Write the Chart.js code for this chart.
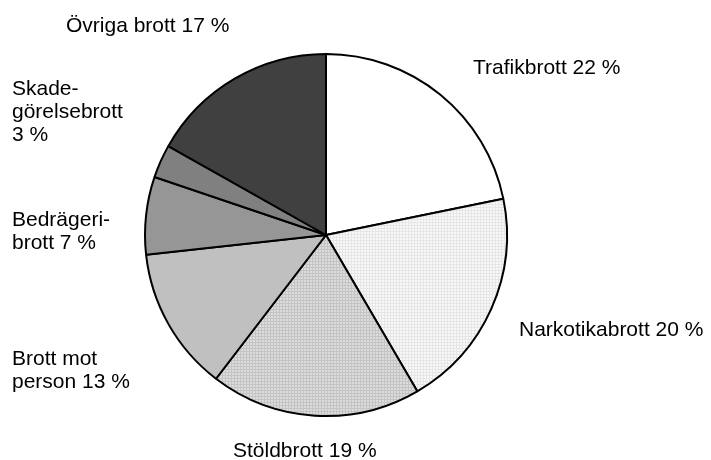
<!DOCTYPE html>
<html>
<head>
<meta charset="utf-8">
<script src="https://cdn.jsdelivr.net/npm/chart.js@4"></script>
<style>
  html, body { margin: 0; padding: 0; background: #fff; }
  #wrap { width: 711px; height: 460px; }
</style>
</head>
<body>
<div id="wrap"><canvas id="pie" width="711" height="460"></canvas></div>
<script>
// Data
const categories = ['Trafikbrott', 'Narkotikabrott', 'Stöldbrott', 'Brott mot person',
                    'Bedrägeribrott', 'Skadegörelsebrott', 'Övriga brott'];
const shares = [22, 20, 19, 13, 7, 3, 17];
// Label text as printed (line breaks as in the reference)
const labelLines = [
  ['Trafikbrott 22 %'],
  ['Narkotikabrott 20 %'],
  ['Stöldbrott 19 %'],
  ['Brott mot', 'person 13 %'],
  ['Bedrägeri-', 'brott 7 %'],
  ['Skade-', 'görelsebrott', '3 %'],
  ['Övriga brott 17 %']
];
// Where each label's first line sits (left x, baseline y)
const labelPos = [
  [473, 74],
  [519, 336],
  [233, 457],
  [12, 365],
  [12, 226],
  [12, 95],
  [66, 32]
];

// Fine dotted textures for two slices
function dots(base, dot) {
  const c = document.createElement('canvas');
  c.width = 3; c.height = 3;
  const g = c.getContext('2d');
  g.fillStyle = base; g.fillRect(0, 0, 3, 3);
  g.fillStyle = dot;
  g.fillRect(0, 0, 1, 3);
  g.fillRect(0, 0, 3, 1);
  return g.createPattern(c, 'repeat');
}

const fills = [
  '#ffffff',
  dots('#f8f8f8', '#e6e6e6'),
  dots('#dcdcdc', '#c4c4c4'),
  '#c0c0c0',
  '#969696',
  '#808080',
  '#404040'
];

const textLabels = {
  id: 'textLabels',
  afterDraw(chart) {
    const ctx = chart.ctx;
    ctx.save();
    ctx.fillStyle = '#000';
    ctx.font = '21px "Liberation Sans", Arial, sans-serif';
    ctx.textBaseline = 'alphabetic';
    ctx.textAlign = 'left';
    labelLines.forEach((lines, i) => {
      const [x, y] = labelPos[i];
      lines.forEach((t, j) => ctx.fillText(t, x, y + j * 23));
    });
    ctx.restore();
  }
};

new Chart(document.getElementById('pie'), {
  type: 'pie',
  data: {
    labels: categories,
    datasets: [{
      data: shares,
      backgroundColor: fills,
      borderColor: '#000',
      borderWidth: 2
    }]
  },
  options: {
    responsive: false,
    animation: false,
    layout: { padding: { top: 53, bottom: 43, left: 144, right: 203 } },
    plugins: {
      legend: { display: false },
      tooltip: { enabled: false }
    }
  },
  plugins: [textLabels]
});
</script>
</body>
</html>
